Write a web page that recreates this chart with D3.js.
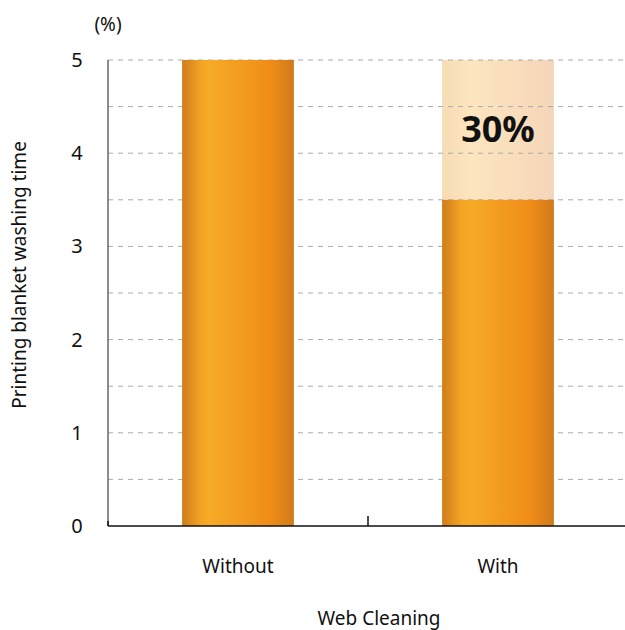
<!DOCTYPE html>
<html><head><meta charset="utf-8">
<script src="https://cdn.jsdelivr.net/npm/d3@7"></script>
<style>body{margin:0;background:#fff}svg{display:block}text{font-family:"Noto Sans",sans-serif;fill:#111}</style>
</head><body>
<script>
const categories = ["Without", "With"];
const values = [5, 3.5];
const baseline = [5, 5];
const reductionLabel = ["", "30%"];
const yTicks = [0, 1, 2, 3, 4, 5];
const gridTicks = [0.5, 1, 1.5, 2, 2.5, 3, 3.5, 4, 4.5, 5];

const W = 625, H = 630;
const m = {left: 108, right: 628, top: 60, bottom: 526};
const svg = d3.select("body").append("svg").attr("width", W).attr("height", H);
const defs = svg.append("defs");
const g1 = defs.append("linearGradient").attr("id", "barG").attr("x1", "0").attr("x2", "1").attr("y1", "0").attr("y2", "0");
[[0, "#d07c1c"], [0.18, "#f4a623"], [0.25, "#f6aa26"], [0.8, "#ef8c18"], [1, "#cf7a1a"]].forEach(([o, c]) => g1.append("stop").attr("offset", o).attr("stop-color", c));
const g2 = defs.append("linearGradient").attr("id", "lightG").attr("x1", "0").attr("x2", "1").attr("y1", "0").attr("y2", "0");
[[0, "#f7dcb5"], [0.25, "#fce5bf"], [0.8, "#f8dabb"], [1, "#f3d6b8"]].forEach(([o, c]) => g2.append("stop").attr("offset", o).attr("stop-color", c));

const x = d3.scaleBand().domain(categories).range([m.left, m.right]).padding(0);
const y = d3.scaleLinear().domain([0, 5]).range([m.bottom, m.top]);
const bw = x.bandwidth() * 0.43;
const bx = c => x(c) + (x.bandwidth() - bw) / 2;

// light (original) parts
svg.selectAll(".light").data(categories).enter().append("rect")
  .attr("x", d => bx(d)).attr("width", bw)
  .attr("y", (d, i) => y(baseline[i])).attr("height", (d, i) => y(values[i]) - y(baseline[i]))
  .attr("fill", "url(#lightG)");

// grid
svg.selectAll(".grid").data(gridTicks).enter().append("line")
  .attr("x1", m.left).attr("x2", W).attr("y1", d => y(d)).attr("y2", d => y(d))
  .attr("stroke", "#aaa").attr("stroke-width", 1).attr("stroke-dasharray", "5,5");

// bars
svg.selectAll(".bar").data(categories).enter().append("rect")
  .attr("x", d => bx(d)).attr("width", bw)
  .attr("y", (d, i) => y(values[i])).attr("height", (d, i) => y(0) - y(values[i]))
  .attr("fill", "url(#barG)");

// 30% label
svg.selectAll(".red").data(categories).enter().append("text")
  .attr("x", d => x(d) + x.bandwidth() / 2)
  .attr("y", (d, i) => (y(baseline[i]) + y(values[i])) / 2 + 12)
  .attr("text-anchor", "middle").style("font-size", "36px").style("font-weight", "bold")
  .text((d, i) => reductionLabel[i]);

// y axis line
svg.append("line").attr("x1", m.left).attr("x2", m.left).attr("y1", m.top).attr("y2", m.bottom)
  .attr("stroke", "#666").attr("stroke-width", 1.5);
// x axis line
svg.append("line").attr("x1", m.left).attr("x2", W).attr("y1", m.bottom).attr("y2", m.bottom)
  .attr("stroke", "#111").attr("stroke-width", 1.5);
// x axis ticks at band boundaries
svg.selectAll(".xt").data(categories).enter().append("line")
  .attr("x1", d => x(d)).attr("x2", d => x(d)).attr("y1", (d, i) => i === 0 ? m.bottom - 5 : m.bottom - 10).attr("y2", m.bottom)
  .attr("stroke", "#111").attr("stroke-width", 1.5);

// y tick labels
svg.selectAll(".yl").data(yTicks).enter().append("text")
  .attr("x", 77).attr("y", d => y(d) + 7).attr("text-anchor", "middle")
  .style("font-size", "20px").text(d => d);
svg.append("text").attr("x", 108).attr("y", 31).attr("text-anchor", "middle").style("font-size", "19px").text("(%)");

// x labels
svg.selectAll(".xl").data(categories).enter().append("text")
  .attr("x", d => x(d) + x.bandwidth() / 2).attr("y", 573).attr("text-anchor", "middle")
  .style("font-size", "19px").text(d => d);
svg.append("text").attr("x", 379).attr("y", 625).attr("text-anchor", "middle").style("font-size", "19px").text("Web Cleaning");
svg.append("text").attr("transform", "translate(26,275) rotate(-90)").attr("text-anchor", "middle")
  .style("font-size", "19px").text("Printing blanket washing time");
</script>
</body></html>
